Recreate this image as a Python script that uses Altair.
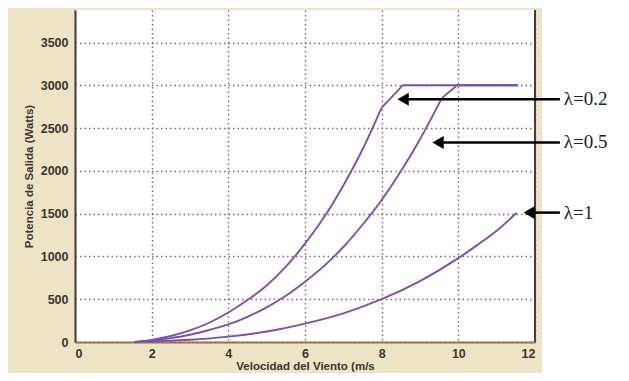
import altair as alt
import pandas as pd

# ---- data ----
# rising (cubic-like) part of each curve
v_02 = [1.55, 2.0, 2.5, 3.0, 3.5, 4.0, 4.5, 5.0, 5.5, 6.0, 6.5, 7.0, 7.5, 8.0]
p_02 = [0, 25, 70, 135, 225, 345, 490, 660, 880, 1150, 1460, 1830, 2250, 2740]
# straight part up to and along rated power
v_02_top = [8.0, 8.55, 11.55]
p_02_top = [2740, 3000, 3000]

v_05 = [1.55, 2.0, 2.5, 3.0, 3.5, 4.0, 4.5, 5.0, 5.5, 6.0, 6.5, 7.0, 7.5, 8.0, 8.5, 9.0, 9.57]
p_05 = [0, 15, 45, 85, 140, 205, 295, 405, 540, 705, 890, 1110, 1370, 1660, 1995, 2370, 2850]
v_05_top = [9.57, 9.97, 11.55]
p_05_top = [2850, 3000, 3000]

v_1 = [1.55, 2.0, 3.0, 4.0, 5.0, 6.0, 7.0, 8.0, 9.0, 10.0, 10.5, 11.0, 11.52]
p_1 = [0, 8, 27, 63, 122, 215, 335, 500, 712, 980, 1135, 1300, 1510]

x_ticks = [0, 2, 4, 6, 8, 10, 12]
y_ticks = [0, 500, 1000, 1500, 2000, 2500, 3000, 3500]

ann_labels = ["λ=0.2", "λ=0.5", "λ=1"]
ann_y = [2836, 2332, 1512]
ann_head_x = [8.56, 9.47, 11.85]
ann_tail_x = [12.65, 12.65, 12.65]
ann_text_x = [12.75, 12.75, 12.75]

curve_color = "#7b50b4"
bg = "#ede4c6"


def make_df(parts):
    rows = []
    for name, vs, ps in parts:
        for i, (v, p) in enumerate(zip(vs, ps)):
            rows.append({"serie": name, "v": v, "p": p, "o": i})
    return pd.DataFrame(rows)


curves_df = make_df([("0.2", v_02, p_02), ("0.5", v_05, p_05), ("1", v_1, p_1)])
tops_df = make_df([("0.2", v_02_top, p_02_top), ("0.5", v_05_top, p_05_top)])

ann_df = pd.DataFrame({
    "label": ann_labels, "y": ann_y, "hx": ann_head_x,
    "tx": ann_tail_x, "lx": ann_text_x,
})

xs = alt.Scale(domain=[0, 12], nice=False, zero=False)
ys = alt.Scale(domain=[0, 3880], nice=False)

x_axis = alt.Axis(
    values=x_ticks, title="Velocidad del Viento (m/s", grid=True, ticks=False,
    labelPadding=5, titlePadding=1,
)
y_axis = alt.Axis(
    values=y_ticks, title="Potencia de Salida (Watts)", grid=True, ticks=False,
    labelPadding=7, titlePadding=6, format="d",
)

lines = alt.Chart(curves_df).mark_line(
    color=curve_color, strokeWidth=1.9, interpolate="monotone"
).encode(
    x=alt.X("v:Q", scale=xs, axis=x_axis),
    y=alt.Y("p:Q", scale=ys, axis=y_axis),
    detail="serie:N",
    order="o:Q",
)

tops = alt.Chart(tops_df).mark_line(
    color=curve_color, strokeWidth=1.9, strokeJoin="round"
).encode(
    x=alt.X("v:Q", scale=xs),
    y=alt.Y("p:Q", scale=ys),
    detail="serie:N",
    order="o:Q",
)

# white area on the right, outside the beige figure panel
white_right = alt.Chart(pd.DataFrame({"a": [0]})).mark_rect(color="white").encode(
    x=alt.value(467), x2=alt.value(560), y=alt.value(-20), y2=alt.value(400)
)

right_border = alt.Chart(pd.DataFrame({"x": [12], "y0": [0], "y1": [3880]})).mark_rule(
    color="#4a3c38", strokeWidth=2
).encode(x=alt.X("x:Q", scale=xs), y=alt.Y("y0:Q", scale=ys), y2="y1:Q")

arrow_lines = alt.Chart(ann_df).mark_rule(color="black", strokeWidth=2.5).encode(
    x=alt.X("hx:Q", scale=xs), x2="tx:Q", y=alt.Y("y:Q", scale=ys)
)
arrow_heads = alt.Chart(ann_df).mark_point(
    shape="triangle-left", filled=True, color="black", size=170, opacity=1
).encode(x=alt.X("hx:Q", scale=xs), y=alt.Y("y:Q", scale=ys))
arrow_text = alt.Chart(ann_df).mark_text(
    align="left", baseline="middle", font="Liberation Serif", fontSize=19, color="#222222"
).encode(x=alt.X("lx:Q", scale=xs), y=alt.Y("y:Q", scale=ys), text="label:N")

chart = alt.layer(
    white_right, lines, tops, right_border, arrow_lines, arrow_heads, arrow_text
).properties(
    width=460, height=332,
    padding={"left": 67, "top": 2, "right": 86, "bottom": 31},
    autosize=alt.AutoSizeParams(type="none"),
    background=bg,
).configure_view(
    stroke=None, fill="white"
).configure_axis(
    gridColor="#7d6a78", gridDash=[1.5, 3], gridWidth=1.4, gridOpacity=1,
    labelFont="Liberation Sans", labelFontSize=12.5, labelFontWeight="bold", labelColor="#3a3430",
    titleFont="Liberation Sans", titleFontSize=11.5, titleFontWeight="bold", titleColor="#3a3430",
    domainWidth=2,
).configure_axisX(
    domainColor="#9a7444"
).configure_axisY(
    domainColor="#4a3c38"
)

chart.save("out.html", embed_options={"renderer": "svg", "actions": False})
